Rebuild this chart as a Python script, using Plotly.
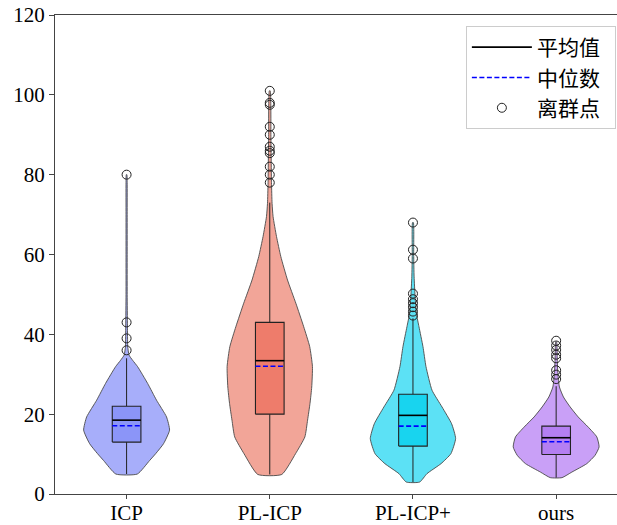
import plotly.graph_objects as go

categories = ["ICP", "PL-ICP", "PL-ICP+", "ours"]

# violin profiles: value levels and half-widths (category units)
icp_levels = [5, 8.4, 10.1, 12.6, 16, 19.3, 23.5, 27.7, 31.9, 33.5, 34.8, 37, 42, 50, 60, 70, 78, 80]
icp_width = [0.075, 0.161, 0.203, 0.258, 0.300, 0.279, 0.209, 0.147, 0.077, 0.042, 0.017, 0.008, 0.006, 0.004, 0.004, 0.004, 0.004, 0.002]
pl_levels = [4.9, 10.1, 14.3, 18.5, 22.7, 26.8, 31.9, 36.9, 41.9, 47.8, 53.6, 59.5, 64.5, 69.5, 72.8, 78, 89.6, 101]
pl_width = [0.084, 0.180, 0.245, 0.264, 0.281, 0.293, 0.298, 0.279, 0.237, 0.182, 0.124, 0.077, 0.047, 0.023, 0.016, 0.012, 0.008, 0.003]
plp_levels = [3, 5.1, 7.6, 10.1, 13.9, 17.6, 21.8, 26, 31.9, 36.9, 41.9, 45.2, 49.4, 54.4, 60, 68]
plp_width = [0.047, 0.098, 0.196, 0.265, 0.298, 0.270, 0.203, 0.133, 0.091, 0.070, 0.042, 0.024, 0.015, 0.008, 0.005, 0.003]
ours_levels = [4.1, 5.5, 7.6, 9.7, 11.8, 14.3, 16.8, 19.3, 21.8, 24.3, 26.8, 30.2, 33.5, 38.1]
ours_width = [0.041, 0.110, 0.214, 0.272, 0.300, 0.284, 0.223, 0.154, 0.098, 0.051, 0.023, 0.012, 0.008, 0.003]

# box statistics
q1 = [13, 20, 12, 9.9]
q3 = [22, 43, 25, 17]
means = [18.5, 33.4, 19.7, 14.1]
medians = [17.1, 32.0, 17.0, 13.1]
whisker_low = [5, 4.9, 3, 4.1]
whisker_high = [34, 73, 44, 27]

# outliers
icp_out = [80, 43, 39, 36]
pl_out = [101, 98, 97.5, 92, 90, 87, 86, 85.4, 82, 80, 78]
plp_out = [68, 61.2, 59, 50.2, 48.8, 47.8, 46.8, 45.7, 44.7]
ours_out = [38.4, 37.2, 36.1, 34.9, 34, 31, 29.9, 28.8]

violin_colors = ["#a7aefa", "#f2a598", "#5ce1f5", "#c9a0f7"]
box_colors = ["#8b95f8", "#ee7c6b", "#18d4ef", "#b47ff2"]

profiles = [(icp_levels, icp_width), (pl_levels, pl_width), (plp_levels, plp_width), (ours_levels, ours_width)]
outliers = [icp_out, pl_out, plp_out, ours_out]
positions = list(range(len(categories)))
box_half = 0.1

fig = go.Figure()

for p, (lv, hw), vc in zip(positions, profiles, violin_colors):
    xs = [p - w for w in hw] + [p + w for w in reversed(hw)] + [p - hw[0]]
    ys = list(lv) + list(reversed(lv)) + [lv[0]]
    fig.add_trace(go.Scatter(x=xs, y=ys, mode="lines", fill="toself", fillcolor=vc,
                             line=dict(color="#4a4a4a", width=0.9, shape="spline", smoothing=0.5),
                             showlegend=False, hoverinfo="skip"))

# whiskers
wx, wy = [], []
for p, lo, a, b, hi in zip(positions, whisker_low, q1, q3, whisker_high):
    wx += [p, p, None, p, p, None]
    wy += [lo, a, None, b, hi, None]
fig.add_trace(go.Scatter(x=wx, y=wy, mode="lines", line=dict(color="#222", width=1),
                         showlegend=False, hoverinfo="skip"))

# boxes
for p, a, b, bc in zip(positions, q1, q3, box_colors):
    fig.add_trace(go.Scatter(x=[p - box_half, p + box_half, p + box_half, p - box_half, p - box_half],
                             y=[a, a, b, b, a], mode="lines", fill="toself", fillcolor=bc,
                             line=dict(color="#222", width=1.1), showlegend=False, hoverinfo="skip"))

mx, my, dx, dy = [], [], [], []
for p, m, md in zip(positions, means, medians):
    mx += [p - box_half, p + box_half, None]
    my += [m, m, None]
    dx += [p - box_half, p + box_half, None]
    dy += [md, md, None]
fig.add_trace(go.Scatter(x=mx, y=my, mode="lines", name="平均值\u00a0\u00a0",
                         line=dict(color="black", width=1.6)))
fig.add_trace(go.Scatter(x=dx, y=dy, mode="lines", name="中位数\u00a0\u00a0",
                         line=dict(color="blue", width=1.6, dash="5px,2.5px")))

ox, oy = [], []
for p, outs in zip(positions, outliers):
    ox += [p] * len(outs)
    oy += outs
fig.add_trace(go.Scatter(x=ox, y=oy, mode="markers", name="离群点\u00a0\u00a0",
                         marker=dict(symbol="circle-open", size=9, color="#222", line=dict(width=1))))

fig.update_layout(
    width=617, height=525,
    margin=dict(l=55, r=0, t=15, b=31),
    paper_bgcolor="white", plot_bgcolor="white",
    font=dict(family="Liberation Serif, Times New Roman, serif", size=21, color="black"),
    legend=dict(x=0.998, y=0.977, xanchor="right", yanchor="top",
                bordercolor="#cccccc", borderwidth=1, bgcolor="rgba(255,255,255,0.9)",
                itemwidth=60,
                font=dict(family="Noto Sans CJK SC, sans-serif", size=21)),
)
fig.update_xaxes(range=[-0.5, 3.425], tickmode="array", tickvals=positions, ticktext=categories,
                 showline=True, linecolor="#444", linewidth=1, mirror=True, automargin=False,
                 ticks="outside", ticklen=4, tickcolor="#444", ticklabelstandoff=-4,
                 showgrid=False, zeroline=False)
fig.update_yaxes(range=[0, 120], dtick=20, showline=True, linecolor="#444", linewidth=1,
                 automargin=False,
                 ticks="outside", ticklen=5, tickcolor="#444", showgrid=False, zeroline=False)

fig.write_html("out.html", config={"displayModeBar": False},
               post_script="document.body.style.margin='0';document.body.style.overflow='hidden';")
